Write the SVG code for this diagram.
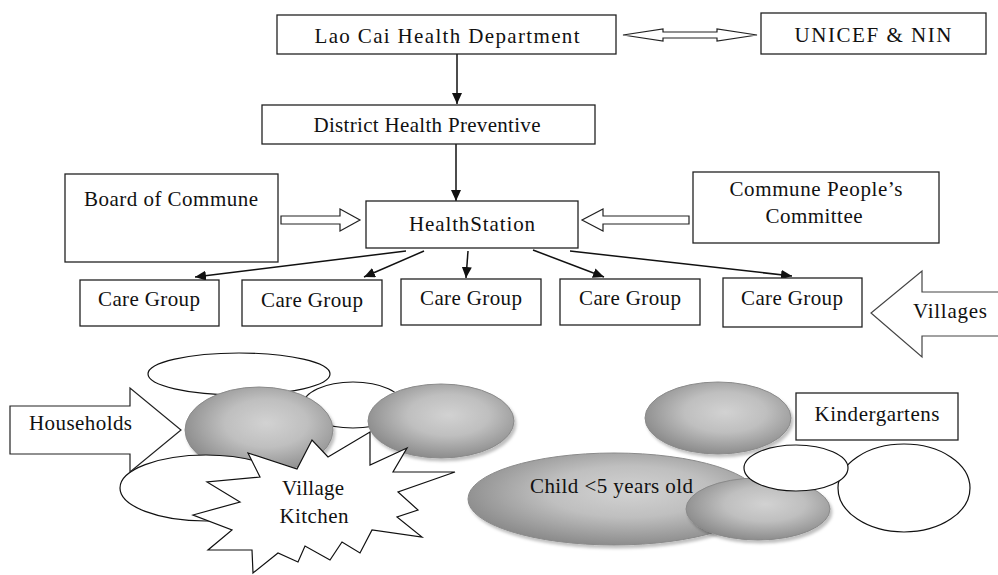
<svg xmlns="http://www.w3.org/2000/svg" width="998" height="575" viewBox="0 0 998 575">
<style>
.box{fill:#fff;stroke:#222;stroke-width:1.3}
.t{font-family:"Liberation Serif","Times New Roman",serif;font-size:21px;fill:#111}
.tc{text-anchor:middle}
.ln{stroke:#111;stroke-width:1.5;fill:none;marker-end:url(#ah)}
.blk{fill:#fff;stroke:#222;stroke-width:1.2}
.we{fill:#fff;stroke:#111;stroke-width:1.2}
.ge{fill:url(#gg);stroke:#8a8a8a;stroke-width:1;filter:url(#sh)}
</style>
<defs>
<marker id="ah" markerUnits="userSpaceOnUse" markerWidth="12" markerHeight="10" refX="11" refY="5" orient="auto">
<path d="M0,0 L11,5 L0,10 z" fill="#111"/>
</marker>
<radialGradient id="gg" cx="0.55" cy="0.42" r="0.62">
<stop offset="0" stop-color="#d2d2d2"/>
<stop offset="0.45" stop-color="#bfbfbf"/>
<stop offset="1" stop-color="#868686"/>
</radialGradient>
<filter id="sh" x="-10%" y="-10%" width="125%" height="130%">
<feDropShadow dx="2" dy="3" stdDeviation="1.8" flood-color="#000" flood-opacity="0.25"/>
</filter>
</defs>

<g id="connectors">
<line class="ln" x1="457" y1="54" x2="457" y2="104"/>
<line class="ln" x1="456" y1="144" x2="456" y2="201"/>
<line class="ln" x1="406" y1="251" x2="195" y2="277"/>
<line class="ln" x1="424" y1="251" x2="364" y2="277"/>
<line class="ln" x1="468" y1="251" x2="466" y2="278"/>
<line class="ln" x1="533" y1="250" x2="604" y2="277"/>
<line class="ln" x1="570" y1="251" x2="792" y2="276"/>
<path class="blk" d="M623,35 L663,29 L663,32 L717,32 L717,29 L757,35 L717,41 L717,38 L663,38 L663,41 Z"/>
<path class="blk" d="M281,216 L340,216 L340,209 L360,220 L340,231 L340,224 L281,224 Z"/>
<path class="blk" d="M689,216 L603,216 L603,209 L582,220 L603,231 L603,224 L689,224 Z"/>
</g>

<g id="lao-cai">
<rect class="box" x="277" y="15" width="339" height="39"/>
<text class="t tc" x="447" y="43" font-size="22" textLength="265" lengthAdjust="spacing">Lao Cai Health Department</text>
</g>
<g id="unicef">
<rect class="box" x="761" y="13" width="225" height="41"/>
<text class="t tc" x="873" y="42" font-size="22" textLength="157" lengthAdjust="spacing">UNICEF &amp; NIN</text>
</g>
<g id="district">
<rect class="box" x="262" y="105" width="333" height="39"/>
<text class="t tc" x="427" y="132" textLength="227" lengthAdjust="spacing">District Health Preventive</text>
</g>
<g id="board">
<rect class="box" x="65" y="174" width="213" height="88"/>
<text class="t" x="84" y="206" textLength="174" lengthAdjust="spacing">Board of Commune</text>
</g>
<g id="health-station">
<rect class="box" x="366" y="201" width="212" height="47"/>
<text class="t" x="409" y="231" textLength="126" lengthAdjust="spacing">HealthStation</text>
</g>
<g id="commune">
<rect class="box" x="693" y="172" width="246" height="71"/>
<text class="t tc" x="816" y="196" textLength="173" lengthAdjust="spacing">Commune People’s</text>
<text class="t tc" x="814" y="223" textLength="97" lengthAdjust="spacing">Committee</text>
</g>
<g id="care1">
<rect class="box" x="80" y="280" width="139" height="46"/>
<text class="t tc" x="149" y="306" textLength="102" lengthAdjust="spacing">Care Group</text>
</g>
<g id="care2">
<rect class="box" x="242" y="280" width="140" height="46"/>
<text class="t tc" x="312" y="307" textLength="102" lengthAdjust="spacing">Care Group</text>
</g>
<g id="care3">
<rect class="box" x="401" y="279" width="140" height="46"/>
<text class="t tc" x="471" y="305" textLength="102" lengthAdjust="spacing">Care Group</text>
</g>
<g id="care4">
<rect class="box" x="560" y="279" width="140" height="46"/>
<text class="t tc" x="630" y="305" textLength="102" lengthAdjust="spacing">Care Group</text>
</g>
<g id="care5">
<rect class="box" x="723" y="278" width="139" height="49"/>
<text class="t tc" x="792" y="305" textLength="102" lengthAdjust="spacing">Care Group</text>
</g>
<g id="villages">
<path d="M998,292 L922,292 L922,271 L871,313 L922,357 L922,336 L998,336" fill="#fff" stroke="#444" stroke-width="1.2"/>
<text class="t" x="913" y="318" textLength="74" lengthAdjust="spacing">Villages</text>
</g>

<g id="households-cluster">
<ellipse class="we" cx="239" cy="374" rx="91" ry="21"/>
<ellipse class="we" cx="353" cy="405" rx="50" ry="23"/>
<ellipse class="ge" cx="259" cy="430" rx="74" ry="43"/>
<ellipse class="ge" cx="441" cy="421" rx="73" ry="37"/>
<ellipse class="we" cx="206" cy="488" rx="86" ry="33"/>
</g>
<g id="households">
<path class="blk" d="M10,406 L130,406 L130,388 L181,430 L130,472 L130,454 L10,454 Z"/>
<text class="t" x="29" y="430" textLength="103" lengthAdjust="spacing">Households</text>
</g>
<g id="village-kitchen">
<polygon fill="#fff" stroke="#111" stroke-width="1.2" points="248,453 297,469 312,440 328,457 370,432 370,465 407,448 393,472 455,472 398,492 418,510 397,517 422,537 372,530 360,553 342,542 330,560 305,546 298,562 278,553 253,573 252,550 208,550 232,530 193,515 240,502 207,482 260,477"/>
<text class="t tc" x="313" y="495" textLength="62" lengthAdjust="spacing">Village</text>
<text class="t tc" x="314" y="523" textLength="69" lengthAdjust="spacing">Kitchen</text>
</g>

<g id="kindergarten-cluster">
<ellipse class="ge" cx="718" cy="418" rx="73" ry="36"/>
<ellipse class="ge" cx="614" cy="499" rx="146" ry="46"/>
<ellipse class="ge" cx="758" cy="509" rx="72" ry="31"/>
<ellipse class="we" cx="904" cy="488" rx="66" ry="44"/>
<ellipse class="we" cx="796" cy="468" rx="52" ry="23"/>
<text class="t" x="530" y="493" textLength="163" lengthAdjust="spacing">Child &lt;5 years old</text>
</g>
<g id="kindergartens">
<rect class="box" x="796" y="393" width="162" height="47"/>
<text class="t tc" x="877" y="421" textLength="125" lengthAdjust="spacing">Kindergartens</text>
</g>
</svg>
